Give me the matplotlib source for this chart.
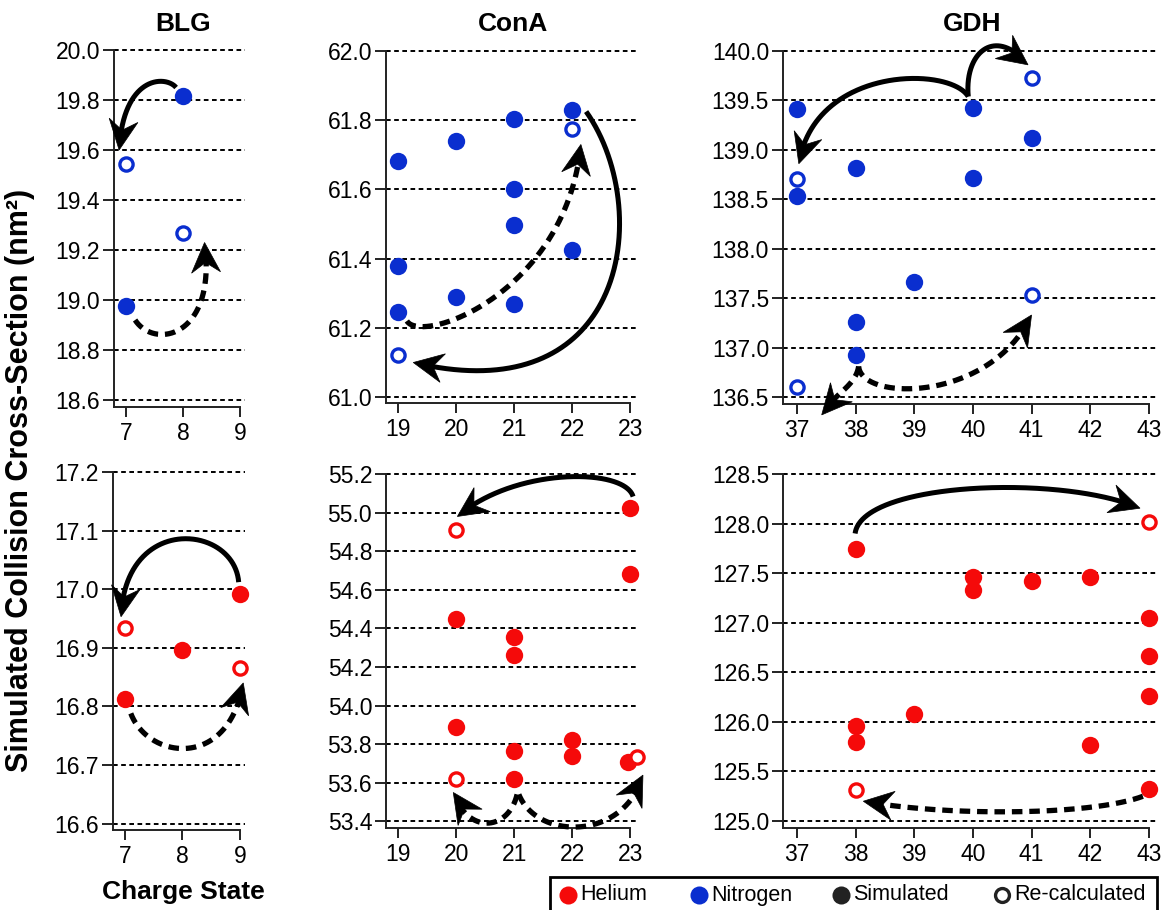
import numpy as np
import matplotlib
matplotlib.use("Agg")
import matplotlib.pyplot as plt
from matplotlib.patches import Polygon, Rectangle

plt.rcParams['font.family'] = ['Liberation Sans', 'DejaVu Sans']

W, H = 1167, 910
BLUE = '#0a2ecf'
RED = '#f50a0a'
DARK = '#222222'

# ---- Nitrogen (top row) ----
BLG_N_sim_x = [7, 8]
BLG_N_sim_y = [18.975, 19.815]
BLG_N_rec_x = [7, 8]
BLG_N_rec_y = [19.545, 19.27]

ConA_N_sim_x = [19, 19, 19, 20, 20, 21, 21, 21, 21, 22, 22]
ConA_N_sim_y = [61.683, 61.379, 61.247, 61.739, 61.29, 61.803, 61.60, 61.497, 61.269, 61.829, 61.424]
ConA_N_rec_x = [19, 22]
ConA_N_rec_y = [61.123, 61.774]

GDH_N_sim_x = [37, 37, 38, 38, 38, 39, 40, 40, 41]
GDH_N_sim_y = [139.41, 138.53, 138.82, 137.26, 136.93, 137.66, 139.42, 138.72, 139.12]
GDH_N_rec_x = [37, 37, 41, 41]
GDH_N_rec_y = [138.71, 136.60, 139.73, 137.53]

# ---- Helium (bottom row) ----
BLG_He_sim_x = [7, 8, 9]
BLG_He_sim_y = [16.813, 16.896, 16.991]
BLG_He_rec_x = [7, 9]
BLG_He_rec_y = [16.933, 16.866]

ConA_He_sim_x = [20, 20, 21, 21, 21, 21, 22, 22, 23, 23, 22.96]
ConA_He_sim_y = [54.448, 53.887, 54.355, 54.263, 53.766, 53.62, 53.823, 53.737, 55.022, 54.682, 53.706]
ConA_He_rec_x = [20, 20, 23.12]
ConA_He_rec_y = [54.91, 53.62, 53.732]

GDH_He_sim_x = [38, 38, 38, 39, 40, 40, 41, 42, 42, 43, 43, 43, 43]
GDH_He_sim_y = [127.742, 125.96, 125.794, 126.08, 127.466, 127.332, 127.416, 127.466, 125.771, 127.043, 126.667, 126.257, 125.328]
GDH_He_rec_x = [38, 43]
GDH_He_rec_y = [125.318, 128.02]

# curved arrows: (start, control1, control2, tip, dashed)
BLG_N_arrows = [((7.88, 19.85), (7.7, 19.9), (6.95, 19.9), (6.88, 19.6), False),
                ((7.16, 18.92), (7.5, 18.8), (8.6, 18.85), (8.38, 19.23), True)]
ConA_N_arrows = [((22.24, 61.825), (23.4, 61.55), (23.0, 60.95), (19.26, 61.10), False),
                 ((19.15, 61.22), (19.4, 61.15), (21.9, 61.3), (22.15, 61.73), True)]
GDH_N_arrows = [((39.92, 139.54), (39.85, 140.0), (40.4, 140.25), (40.94, 139.86), False),
                ((39.92, 139.54), (39.6, 139.85), (37.3, 139.85), (37.03, 138.86), False),
                ((38.05, 136.81), (38.1, 136.45), (40.3, 136.45), (41.0, 137.33), True),
                ((38.05, 136.81), (38.0, 136.6), (37.55, 136.5), (37.42, 136.32), True)]
BLG_He_arrows = [((8.98, 17.012), (8.9, 17.11), (7.0, 17.13), (6.93, 16.953), False),
                 ((7.1, 16.788), (7.4, 16.71), (8.8, 16.69), (9.06, 16.84), True)]
ConA_He_arrows = [((23.05, 55.083), (22.9, 55.235), (21.0, 55.235), (20.02, 54.98), False),
                  ((21.05, 53.54), (20.9, 53.35), (20.2, 53.33), (19.95, 53.55), True),
                  ((21.08, 53.54), (21.4, 53.3), (22.9, 53.3), (23.22, 53.64), True)]
GDH_He_arrows = [((37.99, 127.9), (38.1, 128.42), (41.5, 128.5), (42.85, 128.155), False),
                 ((42.9, 125.25), (42.0, 125.05), (39.5, 125.05), (38.13, 125.2), True)]

fig = plt.figure(figsize=(W / 100, H / 100), dpi=100)


def panel(rect_px, xlim, ylim, xticks, yticks):
    l, t, r, b = rect_px
    pad = 4
    h = b - t
    ytop = ylim[1] + (ylim[1] - ylim[0]) * pad / h
    ax = fig.add_axes([l / W, 1 - b / H, (r - l) / W, (h + pad) / H])
    ax.set_xlim(xlim)
    ax.set_ylim(ylim[0], ytop)
    ax.set_xticks(xticks)
    ax.set_yticks(yticks)
    ax.set_yticklabels(['%.1f' % v for v in yticks])
    for s in ['top', 'right']:
        ax.spines[s].set_visible(False)
    for s in ['left', 'bottom']:
        ax.spines[s].set_linewidth(1.4)
        ax.spines[s].set_color(DARK)
    ax.spines['left'].set_bounds(ylim[0], ylim[1])
    ax.spines['bottom'].set_bounds(xlim[0], xticks[-1])
    ax.tick_params(axis='y', length=8, width=1.4, labelsize=16.5, pad=2, color=DARK)
    ax.tick_params(axis='x', length=7, width=1.4, labelsize=16.5, pad=4, color=DARK)
    ax.yaxis.grid(True, linestyle=(0, (2.4, 1.8)), color='black', linewidth=1.4)
    ax.set_axisbelow(True)
    return ax


def points(ax, sx, sy, rx, ry, color):
    ax.plot(sx, sy, 'o', color=color, ms=12.5, mec='none', clip_on=False, zorder=3)
    ax.plot(rx, ry, 'o', mfc='white', mec=color, ms=9.5, mew=2.4, clip_on=False, zorder=3)


def arrows(ax, arrs, L=30.0, hw=14.5, notch=10.0):
    t = np.linspace(0, 1, 300)[:, None]
    for p0, c1, c2, p3, dashed in arrs:
        p0, c1, c2, p3 = map(np.array, (p0, c1, c2, p3))
        curve = ((1 - t) ** 3 * p0 + 3 * (1 - t) ** 2 * t * c1
                 + 3 * (1 - t) * t ** 2 * c2 + t ** 3 * p3)
        disp = ax.transData.transform(curve)
        tip = disp[-1]
        dist = np.hypot(*(disp - tip).T)
        back = disp[np.where(dist >= L)[0][-1]]
        u = (tip - back) / np.hypot(*(tip - back))
        n = np.array([-u[1], u[0]])
        body = disp[dist > L - notch - 1]
        bd = ax.transData.inverted().transform(body)
        ax.plot(bd[:, 0], bd[:, 1], color='black',
                lw=3.8 if dashed else 3.6,
                ls=(0, (2.0, 1.3)) if dashed else '-',
                solid_capstyle='butt', dash_capstyle='butt',
                clip_on=False, zorder=4)
        head = np.array([tip, tip - L * u + hw * n, tip - (L - notch) * u,
                         tip - L * u - hw * n])
        ax.add_patch(Polygon(ax.transData.inverted().transform(head), closed=True,
                             fc='black', ec='black', lw=0.5, clip_on=False, zorder=5))


ax1 = panel((114, 50, 245, 407), (6.79, 9.09), (18.572, 20.0), [7, 8, 9],
            [18.6, 18.8, 19.0, 19.2, 19.4, 19.6, 19.8, 20.0])
points(ax1, BLG_N_sim_x, BLG_N_sim_y, BLG_N_rec_x, BLG_N_rec_y, BLUE)
arrows(ax1, BLG_N_arrows)

ax2 = panel((386, 51, 636, 403), (18.79, 23.1), (60.983, 62.0), [19, 20, 21, 22, 23],
            [61.0, 61.2, 61.4, 61.6, 61.8, 62.0])
points(ax2, ConA_N_sim_x, ConA_N_sim_y, ConA_N_rec_x, ConA_N_rec_y, BLUE)
arrows(ax2, ConA_N_arrows)

ax3 = panel((783, 51, 1157, 404), (36.76, 43.14), (136.43, 140.0), [37, 38, 39, 40, 41, 42, 43],
            [136.5, 137.0, 137.5, 138.0, 138.5, 139.0, 139.5, 140.0])
points(ax3, GDH_N_sim_x, GDH_N_sim_y, GDH_N_rec_x, GDH_N_rec_y, BLUE)
arrows(ax3, GDH_N_arrows)

ax4 = panel((113, 472, 245, 830), (6.79, 9.09), (16.589, 17.2), [7, 8, 9],
            [16.6, 16.7, 16.8, 16.9, 17.0, 17.1, 17.2])
points(ax4, BLG_He_sim_x, BLG_He_sim_y, BLG_He_rec_x, BLG_He_rec_y, RED)
arrows(ax4, BLG_He_arrows)

ax5 = panel((386, 474, 636, 828), (18.79, 23.1), (53.366, 55.2), [19, 20, 21, 22, 23],
            [53.4, 53.6, 53.8, 54.0, 54.2, 54.4, 54.6, 54.8, 55.0, 55.2])
points(ax5, ConA_He_sim_x, ConA_He_sim_y, ConA_He_rec_x, ConA_He_rec_y, RED)
arrows(ax5, ConA_He_arrows)

ax6 = panel((783, 474, 1157, 828), (36.76, 43.14), (124.93, 128.5), [37, 38, 39, 40, 41, 42, 43],
            [125.0, 125.5, 126.0, 126.5, 127.0, 127.5, 128.0, 128.5])
points(ax6, GDH_He_sim_x, GDH_He_sim_y, GDH_He_rec_x, GDH_He_rec_y, RED)
arrows(ax6, GDH_He_arrows)

# titles and labels
for name, xc in [('BLG', 183), ('ConA', 513), ('GDH', 972)]:
    fig.text(xc / W, 1 - 24 / H, name, ha='center', va='center', fontsize=19, fontweight='bold')
fig.text(20 / W, 1 - 480 / H, 'Simulated Collision Cross-Section (nm²)', rotation=90,
         ha='center', va='center', fontsize=22, fontweight='bold')
fig.text(183 / W, 1 - 892 / H, 'Charge State', ha='center', va='center', fontsize=19, fontweight='bold')

# legend box drawn by hand (it runs off the bottom edge in the original)
fig.add_artist(Rectangle((550 / W, -0.02), 607 / W, (910 - 877) / H + 0.02,
                         transform=fig.transFigure, fill=False, ec='black', lw=2))
leg_y = 1 - 895 / H
leg_items = [('Helium', 568, RED, True), ('Nitrogen', 699, BLUE, True),
             ('Simulated', 841, DARK, True), ('Re-calculated', 1002, DARK, False)]
for label, xm, col, filled in leg_items:
    if filled:
        fig.add_artist(plt.Line2D([xm / W], [leg_y], marker='o', ms=13, color=col,
                                  mec='none', transform=fig.transFigure))
    else:
        fig.add_artist(plt.Line2D([xm / W], [leg_y], marker='o', ms=10, mfc='white',
                                  mec=col, mew=2.4, transform=fig.transFigure))
    fig.text((xm + 12) / W, leg_y, label, ha='left', va='center', fontsize=15.5)

fig.savefig('out.png', dpi=100)
